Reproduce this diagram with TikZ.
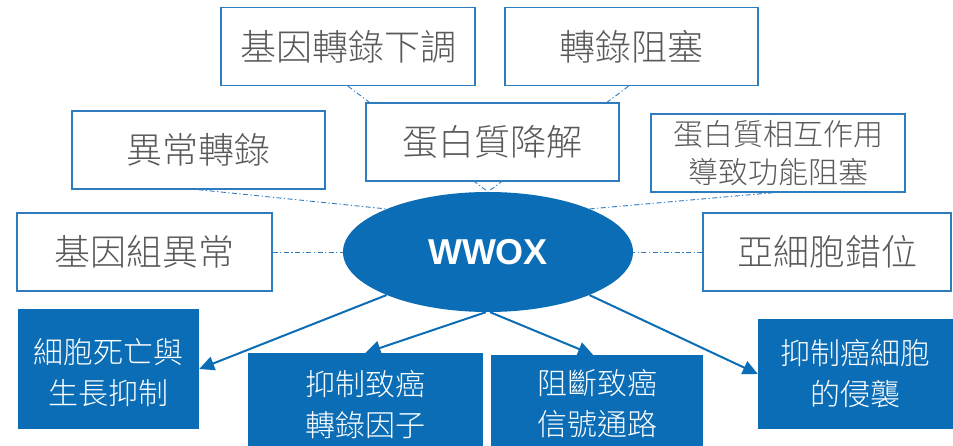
\documentclass[tikz,border=0pt]{standalone}
\usepackage{fontspec}
\setmainfont{Liberation Sans}
\newfontfamily\cjk{Noto Sans CJK TC Light}
\usetikzlibrary{shapes.geometric,arrows.meta,backgrounds}
\definecolor{wblue}{HTML}{0A6DB5}
\definecolor{lblue}{HTML}{2E7BC0}
\definecolor{tgray}{HTML}{595959}
\begin{document}
\begin{tikzpicture}[x=1pt,y=-1pt,
  wbox/.style={draw=lblue,line width=1.4pt,fill=white,inner sep=0pt,minimum height=78pt,
    text=tgray,font=\cjk\fontsize{36}{40}\selectfont,align=center},
  wsmall/.style={wbox,font=\cjk\fontsize{30}{38}\selectfont},
  bbox/.style={fill=wblue,inner sep=0pt,text=white,font=\cjk\fontsize{30}{41}\selectfont,align=center},
  link/.style={draw=lblue,line width=0.9pt,dash pattern=on 5pt off 2.5pt on 1.2pt off 2.5pt},
  arr/.style={draw=wblue,line width=2pt,-{Triangle[length=15pt,width=14pt]}}]
\clip (0,0) rectangle (953,446);
\useasboundingbox (0,0) rectangle (953,446);
% white boxes
\node[wbox,minimum width=254pt] (t1) at (348,46.5) {基因轉錄下調};
\node[wbox,minimum width=253pt] (t2) at (631.5,46.5) {轉錄阻塞};
\node[wbox,minimum width=253pt] (t3) at (198.5,150) {異常轉錄};
\node[wsmall,minimum width=254pt] (t5) at (778,153) {蛋白質相互作用\\導致功能阻塞};
\node[wbox,minimum width=255pt] (t6) at (144.5,252) {基因組異常};
\node[wbox,minimum width=248pt] (t7) at (827,252) {亞細胞錯位};
% ellipse
\node[ellipse,fill=wblue,minimum width=290pt,minimum height=120pt,inner sep=0pt,
  text=white,font=\bfseries\fontsize{36}{40}\selectfont] (w) at (488,252) {WWOX};
% connectors behind
\begin{scope}[on background layer]
\draw[link] (t1.south) -- (w.north);
\draw[link] ([xshift=-3pt]t2.south) -- (w.north);
\end{scope}
\node[wbox,minimum width=253pt] (t4) at (492.5,142) {蛋白質降解};
\draw[link] (t3.south) -- (w.157);
\draw[link] ([xshift=-5pt]t5.south) -- (w.23);
\draw[link] (t6.east) -- (w.west);
\draw[link] (t7.west) -- (w.east);
% blue boxes
\node[bbox,minimum width=181pt,minimum height=120pt] (b1) at (108.5,369) {};
\node[bbox] at (108.5,372.5) {細胞死亡與\\生長抑制};
\node[bbox,minimum width=235pt,minimum height=103pt] (b2) at (365.5,404.5) {抑制致癌\\轉錄因子};
\node[bbox,minimum width=212pt,minimum height=98pt] (b3) at (597,404) {阻斷致癌\\信號通路};
\node[bbox,minimum width=195pt,minimum height=110pt] (b4) at (855.5,374) {抑制癌細胞\\的侵襲};
% arrows
\draw[arr] (w.203) -- (b1.east);
\draw[arr] (w.268) -- (b2.north);
\draw[arr] (w.272) -- ([xshift=-4pt]b3.north);
\draw[arr] (w.337) -- (b4.west);
\end{tikzpicture}
\end{document}
